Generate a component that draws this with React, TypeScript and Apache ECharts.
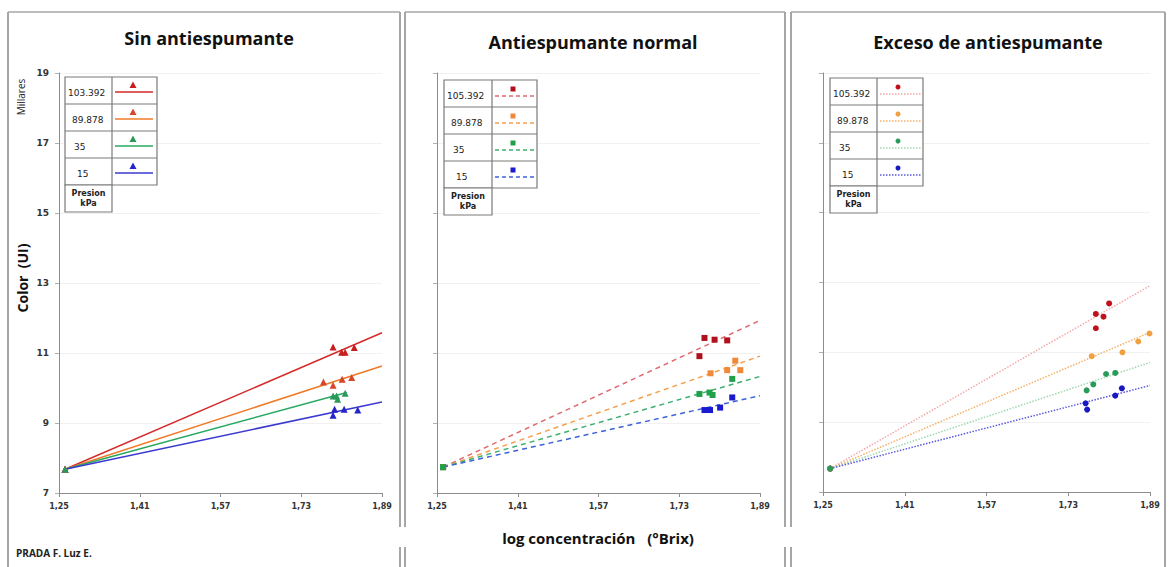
import React, { useEffect, useRef } from "react";
import * as echarts from "echarts";

// ---------- data ----------
const X0 = 1.25;
const X_TICKS = ["1,25", "1,41", "1,57", "1,73", "1,89"];
const Y_TICKS = ["7", "9", "11", "13", "15", "17", "19"];
const TITLES = ["Sin antiespumante", "Antiespumante normal", "Exceso de antiespumante"];
const PRESSURES_P1 = ["103.392", "89.878", "35", "15"];
const PRESSURES_P23 = ["105.392", "89.878", "35", "15"];

// Panel 1: Sin antiespumante (triangles)
const p1RedX = [1.262, 1.793, 1.810, 1.817, 1.835];
const p1RedY = [7.68, 11.17, 11.02, 11.02, 11.16];
const p1OrangeX = [1.262, 1.774, 1.793, 1.811, 1.830];
const p1OrangeY = [7.68, 10.17, 10.08, 10.25, 10.30];
const p1GreenX = [1.262, 1.793, 1.800, 1.802, 1.817];
const p1GreenY = [7.68, 9.77, 9.77, 9.68, 9.85];
const p1BlueX = [1.262, 1.796, 1.793, 1.815, 1.842];
const p1BlueY = [7.68, 9.39, 9.22, 9.39, 9.37];
const p1TrendRed = [[1.262, 7.68], [1.89, 11.58]];
const p1TrendOrange = [[1.262, 7.68], [1.89, 10.63]];
const p1TrendGreen = [[1.262, 7.68], [1.82, 9.87]];
const p1TrendBlue = [[1.262, 7.68], [1.89, 9.6]];

// Panel 2: Antiespumante normal (squares)
const p2RedX = [1.262, 1.780, 1.770, 1.800, 1.825];
const p2RedY = [7.74, 11.43, 10.91, 11.38, 11.36];
const p2OrangeX = [1.262, 1.792, 1.825, 1.841, 1.851];
const p2OrangeY = [7.74, 10.42, 10.51, 10.78, 10.51];
const p2GreenX = [1.262, 1.770, 1.790, 1.796, 1.835];
const p2GreenY = [7.74, 9.83, 9.87, 9.80, 10.26];
const p2BlueX = [1.262, 1.780, 1.791, 1.811, 1.835];
const p2BlueY = [7.74, 9.37, 9.37, 9.44, 9.73];
const p2TrendRed = [[1.262, 7.74], [1.89, 11.93]];
const p2TrendOrange = [[1.262, 7.74], [1.89, 10.91]];
const p2TrendGreen = [[1.262, 7.74], [1.89, 10.33]];
const p2TrendBlue = [[1.262, 7.74], [1.89, 9.78]];

// Panel 3: Exceso de antiespumante (circles)
const p3RedX = [1.264, 1.784, 1.799, 1.810, 1.784];
const p3RedY = [7.67, 12.10, 12.02, 12.40, 11.69];
const p3OrangeX = [1.264, 1.776, 1.836, 1.867, 1.889];
const p3OrangeY = [7.67, 10.89, 11.00, 11.31, 11.54];
const p3GreenX = [1.264, 1.766, 1.779, 1.804, 1.822];
const p3GreenY = [7.67, 9.91, 10.08, 10.38, 10.41];
const p3BlueX = [1.264, 1.764, 1.767, 1.822, 1.835];
const p3BlueY = [7.67, 9.54, 9.36, 9.76, 9.97];
const p3TrendRed = [[1.264, 7.67], [1.89, 12.91]];
const p3TrendOrange = [[1.264, 7.67], [1.89, 11.57]];
const p3TrendGreen = [[1.264, 7.67], [1.89, 10.71]];
const p3TrendBlue = [[1.264, 7.67], [1.89, 10.05]];

// ---------- styling / layout ----------
const GRIDS = [
  { left: 59, top: 73, width: 323, height: 420 },
  { left: 437, top: 73, width: 323, height: 420 },
  { left: 823, top: 73, width: 327, height: 419 },
];

const PANELS = [
  {
    symbol: "triangle", size: 7, lineType: "solid", lineWidth: 1.5,
    markerColors: ["#c81e1e", "#d8462a", "#2a9a5a", "#2424c8"],
    lineColors: ["#d42a2a", "#f07a28", "#28a860", "#3a3ad0"],
    xs: [p1RedX, p1OrangeX, p1GreenX, p1BlueX],
    ys: [p1RedY, p1OrangeY, p1GreenY, p1BlueY],
    trends: [p1TrendRed, p1TrendOrange, p1TrendGreen, p1TrendBlue],
    labels: PRESSURES_P1,
    legend: { left: 65, split: 112, right: 157, top: 77, rowH: 27, markerX: 133, mk: 8, ln: 15, lx1: 115, lx2: 153 },
  },
  {
    symbol: "rect", size: 6, lineType: [5, 4], lineWidth: 1.5,
    markerColors: ["#b0101c", "#f08a3a", "#20a048", "#1a1ad0"],
    lineColors: ["#e06a70", "#f5a050", "#40b070", "#3c64d8"],
    xs: [p2RedX, p2OrangeX, p2GreenX, p2BlueX],
    ys: [p2RedY, p2OrangeY, p2GreenY, p2BlueY],
    trends: [p2TrendRed, p2TrendOrange, p2TrendGreen, p2TrendBlue],
    labels: PRESSURES_P23,
    legend: { left: 444, split: 492, right: 537, top: 80, rowH: 27, markerX: 513, mk: 9, ln: 16, lx1: 495, lx2: 535 },
  },
  {
    symbol: "circle", size: 6, lineType: "dotted", lineWidth: 1.5,
    markerColors: ["#c0101c", "#f0a040", "#2a9a5a", "#1818c0"],
    lineColors: ["#f4a8a8", "#f6b068", "#a0d8b0", "#5a5ae0"],
    xs: [p3RedX, p3OrangeX, p3GreenX, p3BlueX],
    ys: [p3RedY, p3OrangeY, p3GreenY, p3BlueY],
    trends: [p3TrendRed, p3TrendOrange, p3TrendGreen, p3TrendBlue],
    labels: PRESSURES_P23,
    legend: { left: 830, split: 877, right: 923, top: 78, rowH: 27, markerX: 898, mk: 9, ln: 16, lx1: 880, lx2: 921 },
  },
];

const TITLE_POS = [
  { x: 209, y: 38 },
  { x: 593, y: 42 },
  { x: 988, y: 42 },
];

const LABEL_OFFSETS = [3, 7, 9, 12];
const FONT = "'Open Sans', 'DejaVu Sans', sans-serif";
const SMALL = "'DejaVu Sans', sans-serif";

function legendGraphics(p: any) {
  const L = p.legend;
  const els: any[] = [];
  const border = "#7a7a7a";
  const bottom4 = L.top + 4 * L.rowH;
  els.push({ type: "rect", shape: { x: L.left, y: L.top, width: L.right - L.left, height: 4 * L.rowH }, style: { fill: "#fff", stroke: border, lineWidth: 1.2 }, z: 100 });
  els.push({ type: "rect", shape: { x: L.left, y: bottom4, width: L.split - L.left, height: L.rowH }, style: { fill: "#fff", stroke: border, lineWidth: 1.2 }, z: 100 });
  els.push({ type: "line", shape: { x1: L.split, y1: L.top, x2: L.split, y2: bottom4 }, style: { stroke: border, lineWidth: 1.2 }, z: 101 });
  for (let r = 1; r < 4; r++) {
    const y = L.top + r * L.rowH;
    els.push({ type: "line", shape: { x1: L.left, y1: y, x2: L.right, y2: y }, style: { stroke: border, lineWidth: 1.2 }, z: 101 });
  }
  for (let r = 0; r < 4; r++) {
    const top = L.top + r * L.rowH;
    els.push({
      type: "text", x: L.left + LABEL_OFFSETS[r], y: top + L.rowH / 2 + 2, z: 102,
      style: { text: p.labels[r], font: `9px ${SMALL}`, fill: "#222", textAlign: "left", textVerticalAlign: "middle" },
    });
    const lineStyle: any = { stroke: p.lineColors[r], lineWidth: 1.3 };
    if (p.lineType === "dotted") lineStyle.lineDash = [1.5, 1.5];
    else if (Array.isArray(p.lineType)) lineStyle.lineDash = [4, 3];
    els.push({ type: "line", shape: { x1: L.lx1, y1: top + L.ln, x2: L.lx2, y2: top + L.ln }, style: lineStyle, z: 102 });
    const my = top + L.mk;
    const c = p.markerColors[r];
    if (p.symbol === "triangle") {
      els.push({ type: "polygon", shape: { points: [[L.markerX, my - 3.5], [L.markerX - 3.5, my + 3], [L.markerX + 3.5, my + 3]] }, style: { fill: c }, z: 103 });
    } else if (p.symbol === "rect") {
      els.push({ type: "rect", shape: { x: L.markerX - 2.5, y: my - 2.5, width: 5, height: 5 }, style: { fill: c }, z: 103 });
    } else {
      els.push({ type: "circle", shape: { cx: L.markerX, cy: my, r: 2.5 }, style: { fill: c }, z: 103 });
    }
  }
  els.push({
    type: "text", x: (L.left + L.split) / 2, y: bottom4 + L.rowH / 2, z: 102,
    style: { text: "Presion\nkPa", font: `bold 8px ${SMALL}`, fill: "#222", textAlign: "center", textVerticalAlign: "middle", lineHeight: 10 },
  });
  return els;
}

export default function App() {
  const ref = useRef<HTMLDivElement>(null);

  useEffect(() => {
    document.body.style.margin = "0";
    const chart = echarts.init(ref.current!, undefined, { renderer: "svg" });

    const grid = GRIDS.map((g) => ({ ...g, containLabel: false }));
    const axisGray = "#8c8c8c";
    const xAxis = GRIDS.map((_, i) => ({
      gridIndex: i, type: "value", min: 0, max: 0.64, interval: 0.16,
      axisLine: { show: true, lineStyle: { color: axisGray, width: 1 } },
      axisTick: { show: true, length: 4, lineStyle: { color: axisGray } },
      axisLabel: {
        formatter: (v: number) => X_TICKS[Math.round(v / 0.16)] ?? "",
        fontSize: 8, fontWeight: "bold", color: "#333", fontFamily: SMALL, margin: 9,
      },
      splitLine: { show: false },
    }));
    const yAxis = GRIDS.map((_, i) => ({
      gridIndex: i, type: "value", min: 7, max: 19, interval: 2,
      axisLine: { show: true, lineStyle: { color: axisGray, width: 1 } },
      axisTick: { show: true, length: 4, lineStyle: { color: "#b0b0b0" } },
      axisLabel: {
        show: i === 0,
        formatter: (v: number) => Y_TICKS[Math.round((v - 7) / 2)] ?? "",
        fontSize: 9, fontWeight: "bold", color: "#333", fontFamily: SMALL, margin: 10,
      },
      splitLine: { show: true, lineStyle: { color: "#f1f1f1", width: 1 } },
    }));

    const series: any[] = [];
    PANELS.forEach((p, i) => {
      p.trends.forEach((t, k) => {
        series.push({
          type: "line", xAxisIndex: i, yAxisIndex: i, symbol: "none", silent: true,
          data: t.map((pt) => [pt[0] - X0, pt[1]]),
          lineStyle: { color: p.lineColors[k], width: p.lineWidth, type: p.lineType },
          z: 2,
        });
      });
      [3, 0, 1, 2].forEach((k, order) => {
        series.push({
          type: "scatter", xAxisIndex: i, yAxisIndex: i, symbol: p.symbol, symbolSize: p.size,
          data: p.xs[k].map((x, j) => [x - X0, p.ys[k][j]]),
          itemStyle: { color: p.markerColors[k], opacity: 1 },
          z: 3 + order,
        });
      });
    });

    const borderColor = "#a6a6a6";
    const graphic: any[] = [
      { type: "line", shape: { x1: 8, y1: 12, x2: 400, y2: 12 }, style: { stroke: "#bdbdbd", lineWidth: 2 } },
      { type: "line", shape: { x1: 405, y1: 12, x2: 785, y2: 12 }, style: { stroke: "#bdbdbd", lineWidth: 2 } },
      { type: "line", shape: { x1: 791, y1: 12, x2: 1165, y2: 12 }, style: { stroke: "#bdbdbd", lineWidth: 2 } },
      { type: "line", shape: { x1: 8, y1: 12, x2: 8, y2: 567 }, style: { stroke: borderColor, lineWidth: 2 } },
      { type: "line", shape: { x1: 1165, y1: 12, x2: 1165, y2: 567 }, style: { stroke: borderColor, lineWidth: 2 } },
    ];
    [400, 405, 785, 791].forEach((x) => {
      graphic.push({ type: "line", shape: { x1: x, y1: 12, x2: x, y2: 527 }, style: { stroke: borderColor, lineWidth: 2 } });
      graphic.push({ type: "line", shape: { x1: x, y1: 547, x2: x, y2: 567 }, style: { stroke: borderColor, lineWidth: 2 } });
    });
    TITLES.forEach((t, i) => {
      graphic.push({
        type: "text", x: TITLE_POS[i].x, y: TITLE_POS[i].y,
        style: { text: t, font: `bold 18px ${FONT}`, fill: "#111", textAlign: "center", textVerticalAlign: "middle" },
      });
    });
    PANELS.forEach((p) => graphic.push(...legendGraphics(p)));
    graphic.push({
      type: "text", x: 22, y: 278, rotation: Math.PI / 2,
      style: { text: "Color  (UI)", font: `bold 14px ${FONT}`, fill: "#111", textAlign: "center", textVerticalAlign: "middle" },
    });
    graphic.push({
      type: "text", x: 21, y: 97, rotation: Math.PI / 2,
      style: { text: "Millares", font: `10px ${FONT}`, fill: "#222", textAlign: "center", textVerticalAlign: "middle" },
    });
    graphic.push({
      type: "text", x: 598, y: 538,
      style: { text: "log concentración   (°Brix)", font: `bold 15px ${FONT}`, fill: "#111", textAlign: "center", textVerticalAlign: "middle" },
    });
    graphic.push({
      type: "text", x: 16, y: 553,
      style: { text: "PRADA F. Luz E.", font: `bold 10px ${FONT}`, fill: "#222", textAlign: "left", textVerticalAlign: "middle" },
    });

    chart.setOption({
      animation: false,
      backgroundColor: "#ffffff",
      grid, xAxis, yAxis, series, graphic,
    });
    return () => chart.dispose();
  }, []);

  return <div ref={ref} style={{ width: 1170, height: 567 }} />;
}
